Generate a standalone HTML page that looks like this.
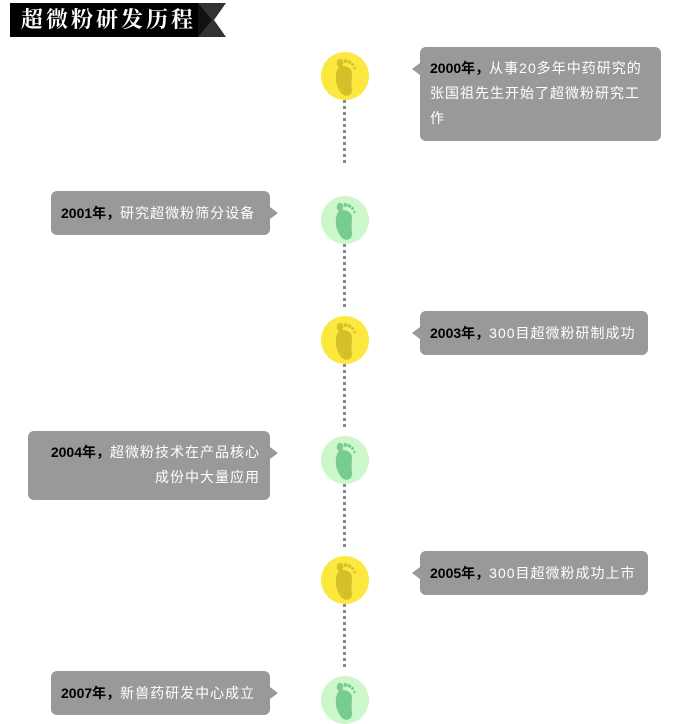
<!DOCTYPE html>
<html><head><meta charset="utf-8"><style>
body{margin:0;width:699px;height:720px;background:#fff;position:relative;overflow:hidden;font-family:"Liberation Sans","Noto Sans CJK SC",sans-serif}
.t{position:absolute;left:10px;top:3px;width:188px;height:34px;background:#000;color:#fff;font-family:"Liberation Serif","Noto Serif CJK SC",serif;font-weight:bold;font-size:22px;line-height:34px;padding-left:11px;box-sizing:border-box;letter-spacing:3px;white-space:nowrap}
.rib{position:absolute;left:198px;top:3px}
.c{position:absolute;width:48px;height:48px;border-radius:50%;left:321px}
.y{background:#fde840}.g{background:#cbf7cb}
.c svg{position:absolute;left:0;top:0}
.d{position:absolute;left:343px;width:3px;background:repeating-linear-gradient(#888 0 3px,transparent 3px 6px)}
.b{position:absolute;background:#999;color:#fff;border-radius:6px;font-size:14px;line-height:25px;padding:10px 10px;box-sizing:border-box;letter-spacing:1px;white-space:nowrap}
.b b{color:#000;letter-spacing:0}
.b.r:before{content:"";position:absolute;left:-8px;top:16px;border-style:solid;border-color:transparent #999 transparent transparent;border-width:6px 8px 6px 0}
.b.l:after{content:"";position:absolute;right:-8px;top:16px;border-style:solid;border-color:transparent transparent transparent #999;border-width:6px 0 6px 8px}
</style></head><body>
<div class="t">超微粉研发历程</div>
<svg class="rib" width="28" height="34"><polygon points="0,0 28,0 16,17 28,34 0,34" fill="#333"/><polygon points="0,0 14,17 0,34" fill="#111"/></svg>

<div class="d" style="top:100px;height:64px"></div>
<div class="d" style="top:244px;height:64px"></div>
<div class="d" style="top:364px;height:64px"></div>
<div class="d" style="top:484px;height:64px"></div>
<div class="d" style="top:604px;height:64px"></div>

<svg width="0" height="0" style="position:absolute"><defs><g id="f"><path d="M16 18 C13 28 16 36 21 42 C26 46 32 43 31 36 C30 31 31 27 31 21 C31 14 18 11 16 18Z"/><ellipse cx="19" cy="11" rx="3.2" ry="4.2"/><circle cx="24.5" cy="9" r="2"/><circle cx="28.5" cy="10" r="1.8"/><circle cx="31.5" cy="12.5" r="1.5"/><circle cx="33.5" cy="16" r="1.3"/></g></defs></svg>
<div class="c y" style="top:52px"><svg width="48" height="48"><use href="#f" fill="#d6c02a"/></svg></div>
<div class="c g" style="top:196px"><svg width="48" height="48"><use href="#f" fill="#78cc92"/></svg></div>
<div class="c y" style="top:316px"><svg width="48" height="48"><use href="#f" fill="#d6c02a"/></svg></div>
<div class="c g" style="top:436px"><svg width="48" height="48"><use href="#f" fill="#78cc92"/></svg></div>
<div class="c y" style="top:556px"><svg width="48" height="48"><use href="#f" fill="#d6c02a"/></svg></div>
<div class="c g" style="top:676px"><svg width="48" height="48"><use href="#f" fill="#78cc92"/></svg></div>

<div class="b r" style="left:420px;top:47px;width:241px;height:94px;padding-top:9px"><b>2000年，</b>从事20多年中药研究的<br>张国祖先生开始了超微粉研究工<br>作</div>
<div class="b l" style="left:51px;top:191px;width:219px;height:44px"><b>2001年，</b>研究超微粉筛分设备</div>
<div class="b r" style="left:420px;top:311px;width:228px;height:44px"><b>2003年，</b>300目超微粉研制成功</div>
<div class="b l" style="left:28px;top:431px;width:242px;height:69px;text-align:right;padding-top:9px"><b>2004年，</b>超微粉技术在产品核心<br>成份中大量应用</div>
<div class="b r" style="left:420px;top:551px;width:228px;height:44px"><b>2005年，</b>300目超微粉成功上市</div>
<div class="b l" style="left:51px;top:671px;width:219px;height:44px"><b>2007年，</b>新兽药研发中心成立</div>
</body></html>
